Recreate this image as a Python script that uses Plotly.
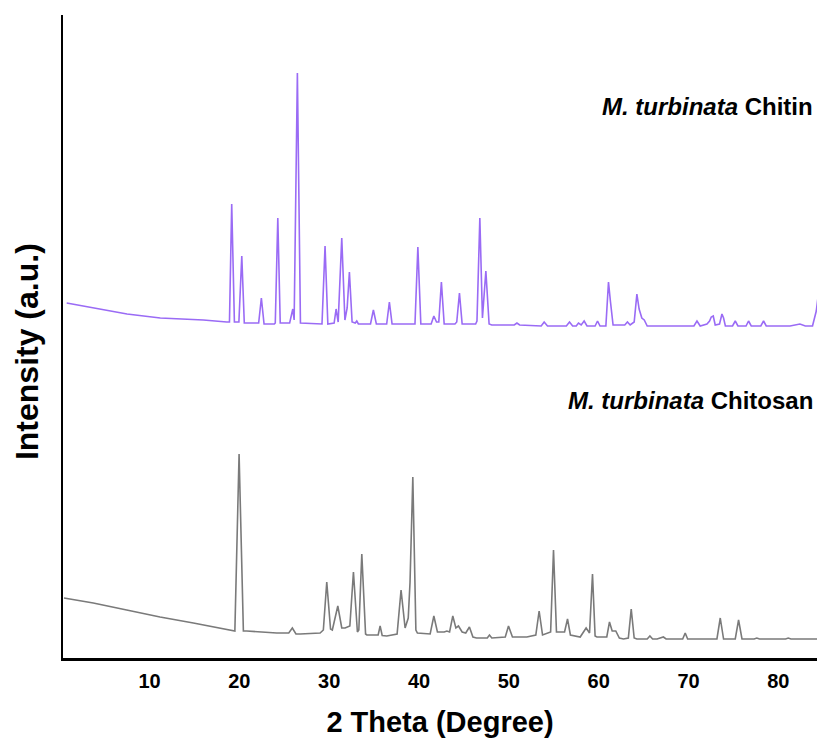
import plotly.graph_objects as go

# Values (2-theta in degrees, intensity in arbitrary units)
chitin_theta = [0.78, 3.7, 7.5, 11.2, 16.0, 18.6, 18.9, 19.15, 19.45, 19.7, 19.95, 20.27, 20.55,
                21.9, 22.15, 22.45, 22.75, 23.9, 24.0, 24.28, 24.55, 25.6, 25.95, 26.1, 26.46, 26.8,
                29.2, 29.54, 29.85, 30.55, 30.77, 31.0, 31.4, 31.75, 32.0, 32.25, 32.55, 32.9, 33.07,
                33.25, 34.6, 34.92, 35.25, 36.4, 36.7, 37.0, 39.55, 39.87, 40.2, 41.35, 41.65, 41.95,
                42.2, 42.49, 42.8, 44.0, 44.2, 44.5, 44.8, 46.3, 46.45, 46.77, 47.06, 47.44, 47.8,
                48.1, 50.6, 50.9, 51.2, 53.6, 53.93, 54.3, 56.4, 56.75, 57.1, 57.5, 57.75, 58.05,
                58.38, 58.7, 59.6, 59.87, 60.15, 60.8, 61.09, 61.3, 61.6, 62.9, 63.2, 63.5, 63.95,
                64.25, 64.5, 64.8, 65.07, 65.4, 70.6, 70.94, 71.3, 72.05, 72.34, 72.53, 72.75, 72.97,
                73.45, 73.72, 73.9, 74.1, 74.9, 75.2, 75.5, 76.4, 76.68, 76.98, 78.05, 78.35, 78.65,
                81.3, 82.4, 83.0, 83.8, 84.22, 84.4]
chitin_intensity = [355, 350, 344, 340, 338, 336, 336, 454, 336, 336, 336, 402, 335,
                    335, 335, 360, 334, 334, 335, 440, 335, 335, 349, 338, 585, 335,
                    334, 412, 334, 335, 349, 336, 420, 338, 350, 386, 336, 335, 337,
                    334, 334, 348, 334, 334, 356, 334, 334, 411, 334, 334, 342, 336,
                    336, 376, 334, 334, 336, 365, 334, 334, 337, 440, 340, 387, 334,
                    333, 333, 335, 333, 332, 336, 332, 332, 336, 332, 332, 335, 333,
                    337, 332, 332, 337, 332, 332, 376, 357, 333, 333, 336, 333, 336,
                    364, 349, 340, 338, 332, 332, 337, 332, 334, 337, 341, 342, 333,
                    334, 344, 340, 332, 332, 337, 332, 332, 337, 332, 332, 337, 332,
                    332, 334, 332, 332, 347, 360]

chitosan_theta = [0.48, 3.74, 7.46, 11.17, 14.88, 18.6, 19.5, 19.97, 20.45, 20.82, 24.16, 25.5,
                  25.9, 26.3, 26.76, 28.99, 29.35, 29.73, 30.15, 30.35, 30.96, 31.4, 31.77, 32.3,
                  32.7, 33.14, 33.3, 33.63, 34.05, 34.19, 35.45, 35.67, 35.9, 36.41, 37.56, 38.0,
                  38.45, 38.8, 39.0, 39.31, 39.65, 39.82, 41.24, 41.65, 42.05, 42.8, 43.1, 43.4,
                  43.76, 44.1, 44.39, 44.8, 45.2, 45.61, 46.0, 46.4, 47.6, 47.84, 48.1, 49.6,
                  49.96, 50.4, 52.0, 53.0, 53.37, 53.75, 54.65, 54.97, 55.3, 56.2, 56.53, 56.85,
                  57.94, 58.6, 58.98, 59.31, 59.6, 59.8, 60.9, 61.2, 61.5, 61.9, 62.3, 62.76,
                  63.3, 63.62, 63.95, 64.25, 65.4, 65.7, 66.0, 66.5, 67.2, 67.5, 68.0, 69.35,
                  69.63, 69.9, 70.2, 73.16, 73.53, 73.9, 75.2, 75.57, 75.95, 77.3, 77.6, 77.9,
                  79.1, 80.8, 81.1, 81.4, 82.07, 84.3]
chitosan_intensity = [60, 55, 48, 41, 35, 28, 27, 204, 27, 27, 25, 25,
                      30, 24, 24, 25, 28, 76, 29, 28, 52, 30, 30, 32,
                      86, 26, 28, 104, 24, 23, 23, 32, 22.5, 22, 24, 68,
                      30, 40, 76, 181, 28, 25, 24, 42, 26, 26, 27, 26,
                      42, 30, 32, 26, 25, 31, 21, 20, 20, 23, 20, 21,
                      32, 21, 21, 23, 47, 23, 26, 108, 26, 26, 39, 23,
                      21, 30, 25, 84, 22, 21, 21, 36, 27, 27, 20, 19,
                      20, 49, 20, 19, 19, 22, 19, 19, 21, 19, 19, 19,
                      25, 19, 19, 19, 40, 19, 19, 38, 19, 19, 20, 19,
                      19, 19, 20, 19, 19, 19]

x_ticks = [10, 20, 30, 40, 50, 60, 70, 80]
series_labels = ["<b><i>M. turbinata</i> Chitin</b>", "<b><i>M. turbinata</i> Chitosan</b>"]
y_title = "<b>Intensity (a.u.)</b>"
x_title = "<b>2 Theta (Degree)</b>"

FONT = "Liberation Sans, Arial, sans-serif"

fig = go.Figure()
fig.add_trace(go.Scatter(x=chitin_theta, y=chitin_intensity, mode="lines",
                         line=dict(color="#9a6bf5", width=1.6), showlegend=False))
fig.add_trace(go.Scatter(x=chitosan_theta, y=chitosan_intensity, mode="lines",
                         line=dict(color="#7a7a7a", width=1.6), showlegend=False))

fig.add_annotation(text=series_labels[0], xref="paper", yref="paper", x=0.998, y=0.857,
                   xanchor="right", yanchor="middle", showarrow=False,
                   font=dict(family=FONT, size=24, color="black"))
fig.add_annotation(text=series_labels[1], xref="paper", yref="paper", x=0.998, y=0.40,
                   xanchor="right", yanchor="middle", showarrow=False,
                   font=dict(family=FONT, size=24, color="black"))
fig.add_annotation(text=y_title, xref="paper", yref="paper", x=-0.048, y=0.477,
                   xanchor="center", yanchor="middle", textangle=-90, showarrow=False,
                   font=dict(family=FONT, size=32, color="black"))

fig.update_layout(
    width=817, height=738,
    margin=dict(l=63, r=0, t=15, b=80, autoexpand=False),
    paper_bgcolor="white", plot_bgcolor="white",
    font=dict(family=FONT, color="black"),
    xaxis=dict(range=[0.37, 84.3], tickvals=x_ticks, ticktext=[f"<b>{v}</b>" for v in x_ticks],
               showgrid=False, zeroline=False, showline=True, linecolor="black", linewidth=2.5,
               ticks="", ticklabelstandoff=3, tickfont=dict(family=FONT, size=20), automargin=False,
               title=dict(text=x_title, font=dict(family=FONT, size=29), standoff=21)),
    yaxis=dict(range=[0, 643], showgrid=False, zeroline=False, showline=True, linecolor="black",
               linewidth=2, showticklabels=False, ticks="", automargin=False),
)

fig.write_html("out.html", config={"displayModeBar": False},
               post_script="document.body.style.margin='0';document.body.style.overflow='hidden';")
